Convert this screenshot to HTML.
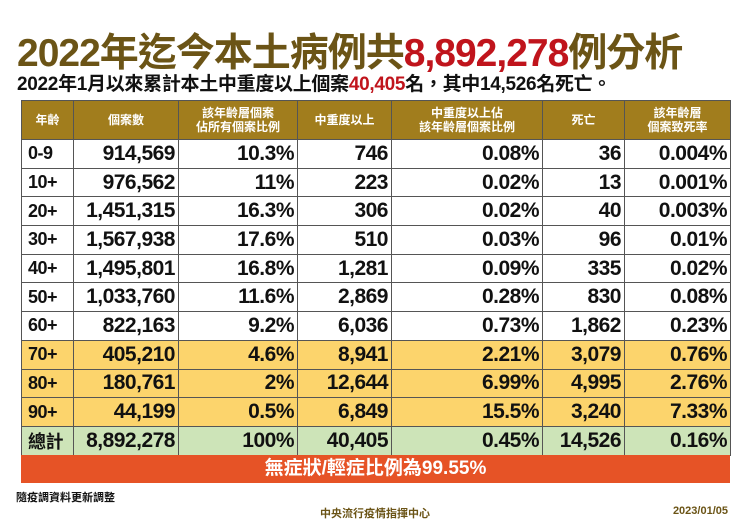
<!DOCTYPE html>
<html><head><meta charset="utf-8"><style>
*{margin:0;padding:0;box-sizing:border-box}
body{width:750px;height:531px;background:#fff;position:relative;overflow:hidden;font-family:"Liberation Sans","Noto Sans CJK TC",sans-serif}
.t{position:absolute;left:17px;top:22px;font-size:39px;font-weight:bold;color:#6b5416;white-space:nowrap;letter-spacing:-1px}
.t span{color:#c0141c}
.s{position:absolute;left:17px;top:69px;font-size:19px;font-weight:bold;color:#111;white-space:nowrap;letter-spacing:-0.3px}
.s span{color:#c0141c}
table{position:absolute;left:21px;top:100px;width:709px;border-collapse:collapse;table-layout:fixed}
td,th{border:1px solid #555;padding:0 3px;white-space:nowrap;overflow:hidden}
th{background:#a17d1d;color:#fff;font-size:12px;height:39px;font-weight:bold;line-height:14px;text-align:center}
td{height:28.7px;font-size:21px;font-weight:bold;text-align:right;color:#111;letter-spacing:-0.5px}
td:first-child{text-align:left;padding-left:6px;font-size:18px}
tr.y td{background:#fcd46c}
tr.g td{background:#cde4b8}
.o{position:absolute;left:21px;top:455px;width:709px;height:28px;background:#e65326;color:#fff;font-size:19px;font-weight:bold;text-align:center;line-height:28px}
.f1{position:absolute;left:16px;top:489px;font-size:11px;font-weight:bold;color:#111}
.f2{position:absolute;left:0;width:750px;text-align:center;top:505px;font-size:11px;font-weight:bold;color:#6b5416}
.f3{position:absolute;right:22px;top:505px;font-size:11px;color:#6b5416;font-weight:bold}
</style></head><body>
<div class="t">2022年迄今本土病例共<span>8,892,278</span>例分析</div>
<div class="s">2022年1月以來累計本土中重度以上個案<span>40,405</span>名，其中14,526名死亡。</div>
<table>
<colgroup><col style="width:52px"><col style="width:105px"><col style="width:119px"><col style="width:94px"><col style="width:151px"><col style="width:82px"><col style="width:106px"></colgroup>
<tr><th>年齡</th><th>個案數</th><th>該年齡層個案<br>佔所有個案比例</th><th>中重度以上</th><th>中重度以上佔<br>該年齡層個案比例</th><th>死亡</th><th>該年齡層<br>個案致死率</th></tr>
<tr><td>0-9</td><td>914,569</td><td>10.3%</td><td>746</td><td>0.08%</td><td>36</td><td>0.004%</td></tr>
<tr><td>10+</td><td>976,562</td><td>11%</td><td>223</td><td>0.02%</td><td>13</td><td>0.001%</td></tr>
<tr><td>20+</td><td>1,451,315</td><td>16.3%</td><td>306</td><td>0.02%</td><td>40</td><td>0.003%</td></tr>
<tr><td>30+</td><td>1,567,938</td><td>17.6%</td><td>510</td><td>0.03%</td><td>96</td><td>0.01%</td></tr>
<tr><td>40+</td><td>1,495,801</td><td>16.8%</td><td>1,281</td><td>0.09%</td><td>335</td><td>0.02%</td></tr>
<tr><td>50+</td><td>1,033,760</td><td>11.6%</td><td>2,869</td><td>0.28%</td><td>830</td><td>0.08%</td></tr>
<tr><td>60+</td><td>822,163</td><td>9.2%</td><td>6,036</td><td>0.73%</td><td>1,862</td><td>0.23%</td></tr>
<tr class="y"><td>70+</td><td>405,210</td><td>4.6%</td><td>8,941</td><td>2.21%</td><td>3,079</td><td>0.76%</td></tr>
<tr class="y"><td>80+</td><td>180,761</td><td>2%</td><td>12,644</td><td>6.99%</td><td>4,995</td><td>2.76%</td></tr>
<tr class="y"><td>90+</td><td>44,199</td><td>0.5%</td><td>6,849</td><td>15.5%</td><td>3,240</td><td>7.33%</td></tr>
<tr class="g"><td>總計</td><td>8,892,278</td><td>100%</td><td>40,405</td><td>0.45%</td><td>14,526</td><td>0.16%</td></tr>
</table>
<div class="o">無症狀/輕症比例為99.55%</div>
<div class="f1">隨疫調資料更新調整</div>
<div class="f2">中央流行疫情指揮中心</div>
<div class="f3">2023/01/05</div>
</body></html>
